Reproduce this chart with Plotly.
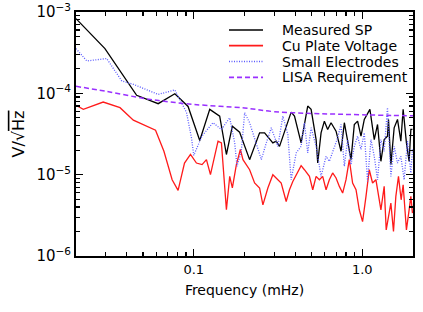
import plotly.graph_objects as go

# ---- data ----
measured_f = [0.020, 0.0297, 0.0458, 0.0518, 0.0615, 0.0772, 0.0925, 0.1085, 0.1244, 0.1425,
              0.1562, 0.1694, 0.1871, 0.2145, 0.2458, 0.2632, 0.2946, 0.3084, 0.3228, 0.3784,
              0.396, 0.4335, 0.4745, 0.497, 0.5321, 0.544, 0.5694, 0.5957, 0.6232, 0.6526,
              0.6988, 0.7482, 0.7826, 0.8572, 0.8968, 0.938, 0.9824, 1.028, 1.075, 1.11,
              1.178, 1.232, 1.29, 1.349, 1.411, 1.431, 1.478, 1.546, 1.618, 1.694,
              1.748, 1.828, 1.897, 1.942, 1.985]
measured_v = [8.3e-4, 3.55e-4, 9.45e-5, 8.6e-5, 7.46e-5, 9.9e-5, 6.9e-5, 2.63e-5, 6.35e-5, 5.25e-5,
              1.77e-5, 3.95e-5, 3.33e-5, 1.53e-5, 3.27e-5, 3.27e-5, 2.46e-5, 2.58e-5, 2.23e-5, 5.88e-5,
              5.25e-5, 2.46e-5, 6.97e-5, 6.35e-5, 2.7e-5, 1.39e-5, 3.27e-5, 4.55e-5, 3.6e-5, 4.35e-5,
              3.43e-5, 1.94e-5, 4.35e-5, 1.53e-5, 4.14e-5, 4.55e-5, 2.97e-5, 4.78e-5, 5.78e-5, 6.35e-5,
              2.7e-5, 4.14e-5, 1.46e-5, 2.7e-5, 2.97e-5, 4.78e-5, 1.33e-5, 3.77e-5, 4.78e-5, 2.58e-5,
              6.35e-5, 2.46e-5, 1.46e-5, 3.6e-5, 3.6e-5]

cu_f = [0.020, 0.0221, 0.029, 0.0365, 0.0438, 0.0518, 0.0593, 0.0665, 0.0744, 0.0807,
        0.0881, 0.0956, 0.1037, 0.112, 0.1189, 0.1256, 0.1393, 0.1459, 0.1562, 0.1634,
        0.1694, 0.179, 0.189, 0.1959, 0.2145, 0.2296, 0.2458, 0.2572, 0.2752, 0.2946,
        0.3084, 0.3303, 0.3535, 0.3698, 0.387, 0.4335, 0.4535, 0.4857, 0.5082, 0.5321,
        0.5566, 0.5822, 0.6097, 0.6376, 0.6671, 0.6988, 0.731, 0.7646, 0.8008, 0.8377,
        0.8762, 0.918, 0.96, 1.004, 1.052, 1.1, 1.151, 1.205, 1.29, 1.349,
        1.387, 1.478, 1.532, 1.582, 1.64, 1.701, 1.748, 1.828, 1.897, 1.942, 1.985]
cu_v = [7.11e-5, 6.35e-5, 7.81e-5, 6.66e-5, 4.68e-5, 4.03e-5, 3.52e-5, 1.94e-5, 8.67e-6, 6.4e-6,
        1.39e-5, 1.77e-5, 1.39e-5, 1.33e-5, 1.53e-5, 1.0e-5, 2.58e-5, 2.46e-5, 3.7e-6, 9.53e-6,
        6.86e-6, 1.33e-5, 2.04e-5, 1.53e-5, 1.15e-5, 7.9e-6, 6.86e-6, 4.26e-6, 6.86e-6, 1.0e-5,
        9.1e-6, 7.9e-6, 4.68e-6, 6.53e-6, 8.26e-6, 1.29e-5, 1.15e-5, 9.53e-6, 6.53e-6, 9.53e-6,
        8.67e-6, 9.53e-6, 6.53e-6, 8.67e-6, 1.05e-5, 9.1e-6, 7.18e-6, 5.94e-6, 8.67e-6, 1.53e-5,
        7.9e-6, 6.53e-6, 3.7e-6, 2.65e-6, 5.4e-6, 1.15e-5, 7.9e-6, 8.67e-6, 3.7e-6, 7.18e-6,
        2.09e-6, 4.47e-6, 2.0e-6, 5.4e-6, 9.53e-6, 4.91e-6, 7.52e-6, 2.09e-6, 3.7e-6, 5.4e-6, 3.37e-6]

electrodes_f = [0.020, 0.0232, 0.0304, 0.0374, 0.0438, 0.0518, 0.0615, 0.0772, 0.0905, 0.0969,
                0.100, 0.112, 0.1256, 0.130, 0.1459, 0.1634, 0.1749, 0.1805, 0.1915, 0.2004,
                0.2145, 0.235, 0.2517, 0.2693, 0.2883, 0.3155, 0.3378, 0.3615, 0.3784, 0.4054,
                0.4335, 0.4535, 0.4745, 0.497, 0.5321, 0.5694, 0.6097, 0.6376, 0.6827, 0.7142,
                0.7482, 0.7826, 0.8185, 0.8572, 0.8968, 0.938, 0.9824, 1.028, 1.075, 1.126,
                1.178, 1.232, 1.29, 1.349, 1.411, 1.478, 1.546, 1.618, 1.694, 1.772,
                1.854, 1.942, 1.985]
electrodes_v = [3.55e-4, 2.5e-4, 2.68e-4, 1.42e-4, 1.29e-4, 1.12e-4, 9.7e-5, 1.1e-4, 5.83e-5, 2.84e-5,
                1.73e-5, 3.0e-5, 4.0e-5, 4.35e-5, 3.6e-5, 5.01e-5, 2.46e-5, 1.27e-5, 1.94e-5, 5.78e-5,
                4.35e-5, 2.34e-5, 1.53e-5, 2.46e-5, 3.77e-5, 2.23e-5, 5.25e-5, 3.12e-5, 8.67e-6, 1.85e-5,
                2.23e-5, 4.35e-5, 1.85e-5, 3.77e-5, 2.23e-5, 9.53e-6, 1.68e-5, 1.46e-5, 2.23e-5, 2.84e-5,
                4.14e-5, 1.27e-5, 2.7e-5, 1.33e-5, 2.23e-5, 2.97e-5, 2.04e-5, 3.27e-5, 8.26e-6, 2.7e-5,
                1.68e-5, 8.67e-6, 2.7e-5, 1.94e-5, 6.66e-5, 9.53e-6, 2.23e-5, 1.39e-5, 1.68e-5, 8.67e-6,
                2.58e-5, 1.05e-5, 2.04e-5]

lisa_f = [0.02, 0.03, 0.05, 0.07, 0.1, 0.2, 0.3, 0.5, 0.7, 1.0, 1.5, 2.0]
lisa_v = [1.22e-4, 1.06e-4, 8.7e-5, 7.9e-5, 7.3e-5, 6.6e-5, 5.95e-5, 5.66e-5, 5.55e-5, 5.45e-5, 5.35e-5, 5.3e-5]

series_names = ["Measured SP", "Cu Plate Voltage", "Small Electrodes", "LISA Requirement"]

x_tick_vals = [0.1, 1.0]
x_tick_text = ["0.1", "1.0"]
y_tick_vals = [1e-6, 1e-5, 1e-4, 1e-3]
y_tick_text = ["10<sup>−6</sup>", "10<sup>−5</sup>", "10<sup>−4</sup>", "10<sup>−3</sup>"]

# ---- styles ----
FONT = "DejaVu Sans, Liberation Sans, sans-serif"
styles = [
    dict(color="black", width=1.3, dash="solid"),
    dict(color="#ff1a1a", width=1.3, dash="solid"),
    dict(color="#5a5aff", width=1.3, dash="1px,1.5px"),
    dict(color="#9a30ff", width=1.5, dash="5px,3px"),
]

fig = go.Figure()
for (xs, ys), name, st in zip(
    [(measured_f, measured_v), (cu_f, cu_v), (electrodes_f, electrodes_v), (lisa_f, lisa_v)],
    series_names, styles):
    fig.add_trace(go.Scatter(x=xs, y=ys, mode="lines", name=name, line=st,
                             line_shape="spline" if name == "LISA Requirement" else "linear",
                             showlegend=False, hoverinfo="skip"))

# legend drawn from the series names and styles (inside the plot, top right)
leg_x0, leg_x1, leg_tx = 0.454, 0.555, 0.606
leg_rows = [0.926, 0.862, 0.797, 0.732]
for name, st, yy in zip(series_names, styles, leg_rows):
    fig.add_shape(type="line", xref="paper", yref="paper", x0=leg_x0, x1=leg_x1, y0=yy, y1=yy,
                  line=dict(color=st["color"], width=st["width"] + 0.3, dash=st["dash"]))
    fig.add_annotation(xref="paper", yref="paper", x=leg_tx, y=yy, text=name, showarrow=False,
                       xanchor="left", yanchor="middle", font=dict(size=14, color="black", family=FONT))

minor_x = [m * 10 ** e for e in (-2, -1) for m in range(2, 10)][1:]
minor_y = [m * 10 ** e for e in (-6, -5, -4) for m in range(2, 10)]

axis_common = dict(showline=True, linewidth=2, linecolor="black", mirror="ticks",
                   ticks="inside", ticklen=7, tickwidth=1.3, tickcolor="black",
                   showgrid=False, zeroline=False, automargin=False)

fig.update_xaxes(type="log", range=[-1.69897, 0.30103], tickmode="array",
                 tickvals=x_tick_vals, ticktext=x_tick_text,
                 tickfont=dict(size=13, color="black", family=FONT),
                 minor=dict(tickmode="array", tickvals=minor_x, ticks="inside", ticklen=4,
                            tickwidth=1.2, tickcolor="black", showgrid=False),
                 title=dict(text="Frequency (mHz)", font=dict(size=14, color="black", family=FONT),
                            standoff=10),
                 **axis_common)
fig.update_yaxes(type="log", range=[-6, -3], tickmode="array",
                 tickvals=y_tick_vals, ticktext=y_tick_text,
                 tickfont=dict(size=15, color="black", family=FONT),
                 minor=dict(tickmode="array", tickvals=minor_y, ticks="inside", ticklen=4,
                            tickwidth=1.2, tickcolor="black", showgrid=False),
                 title=dict(text="V/√<span style=\"text-decoration:overline\">Hz</span>",
                            font=dict(size=16, color="black", family=FONT), standoff=8),
                 **axis_common)

fig.update_layout(width=423, height=312, margin=dict(l=76, r=10, t=12, b=56),
                  paper_bgcolor="white", plot_bgcolor="white",
                  font=dict(family=FONT, color="black"), hovermode=False)

fig.write_html("out.html", config={"displayModeBar": False, "staticPlot": True},
               post_script="document.body.style.margin='0';")
